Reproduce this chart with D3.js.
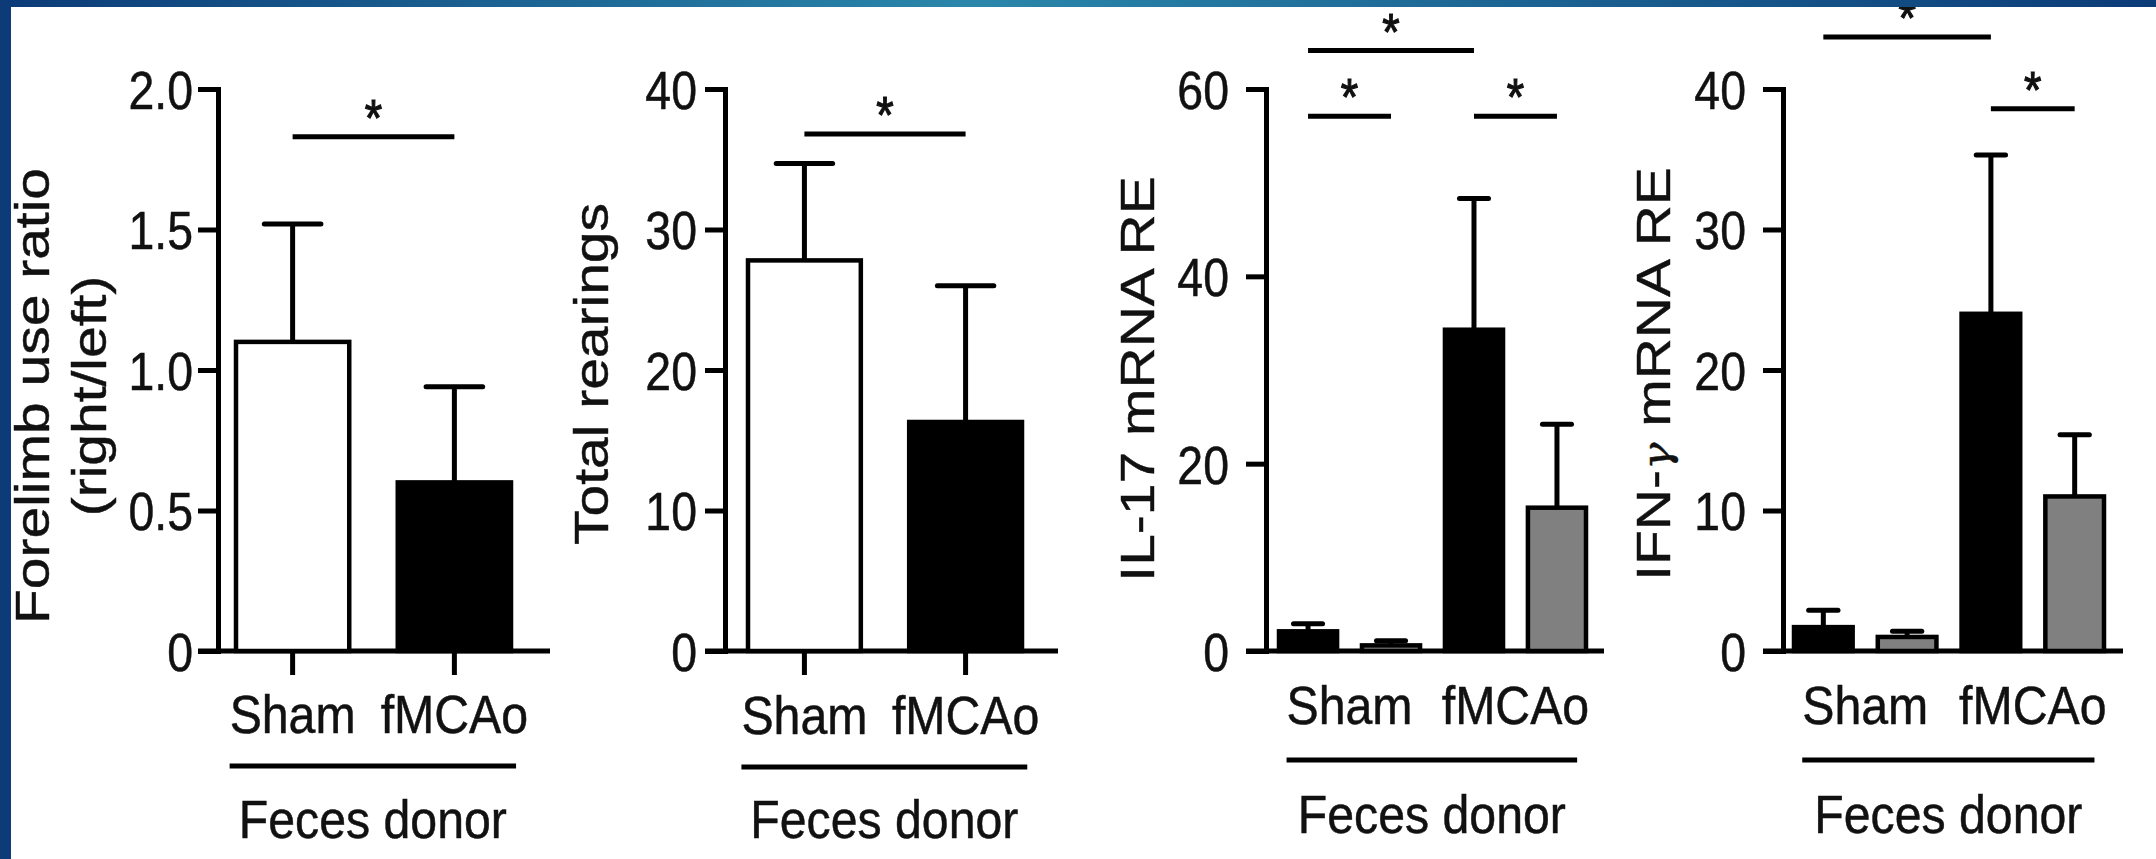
<!DOCTYPE html>
<html>
<head>
<meta charset="utf-8">
<script src="https://cdn.jsdelivr.net/npm/d3@7"></script>
<style>
  html, body { margin: 0; padding: 0; background: #fff; }
  svg { display: block; }
  text { font-family: "Liberation Sans", Arial, Helvetica, sans-serif; fill: #111; stroke: #111; stroke-width: 0.5px; }
</style>
</head>
<body>
<div id="chart"></div>
<script>
// ---- data ----
const groups = ["Sham", "fMCAo"];

// forelimb use ratio (right/left)
const forelimbMean = [1.10, 0.60];
const forelimbErr = [0.42, 0.34];
const forelimbTicks = [0, 0.5, 1.0, 1.5, 2.0];
const forelimbSig = [{ a: 0, b: 1, y: 1.83 }];

// total rearings
const rearingMean = [27.8, 16.3];
const rearingErr = [6.9, 9.7];
const rearingTicks = [0, 10, 20, 30, 40];
const rearingSig = [{ a: 0, b: 1, y: 36.8 }];

// four bars per cytokine panel, two per feces donor group
const cytoGroup = ["Sham", "Sham", "fMCAo", "fMCAo"];

const il17Mean = [2.1, 0.6, 34.3, 15.3];
const il17Err = [0.8, 0.5, 14.0, 8.9];
const il17Ticks = [0, 20, 40, 60];
const il17Sig = [
  { a: 0, b: 2, y: 64.1 },
  { a: 0, b: 1, y: 57.1 },
  { a: 2, b: 3, y: 57.1 }
];

const ifngMean = [1.7, 1.0, 24.0, 11.0];
const ifngErr = [1.2, 0.4, 11.3, 4.4];
const ifngTicks = [0, 10, 20, 30, 40];
const ifngSig = [
  { a: 0, b: 2, y: 43.7 },
  { a: 2, b: 3, y: 38.6 }
];

// ---- layout ----
const W = 2156, H = 859;
const Y_ZERO = 651, Y_TOP = 89;   // pixel range shared by all y scales
const SX = 0.86;                  // the lettering in the figure is squeezed sideways
const SX_LABEL = 0.91;            // category labels are a little wider
const TICK = 20;
const LW = 5;                     // axis / line weight

const fmtDec = (d) => (d === 0 ? "0" : d3.format(".1f")(d));
const fmtInt = d3.format("d");

const panels = [
  {
    title: ["Forelimb use ratio", "(right/left)"], titleX: [49, 106], titleY: 396,
    mean: forelimbMean, err: forelimbErr, ticks: forelimbTicks, fmt: fmtDec, max: 2,
    group: groups, sig: forelimbSig, fill: ["#fff", "#000"],
    axisX: 218, xEnd: 550, barRange: [236, 511], pad: 5, xTicks: true,
    labelY: 733, lineY: 766, donorY: 838
  },
  {
    title: ["Total rearings"], titleX: [608], titleY: 374,
    mean: rearingMean, err: rearingErr, ticks: rearingTicks, fmt: fmtInt, max: 40,
    group: groups, sig: rearingSig, fill: ["#fff", "#000"],
    axisX: 725, xEnd: 1058, barRange: [748, 1022], pad: 8, xTicks: true,
    labelY: 734, lineY: 767, donorY: 838
  },
  {
    title: ["IL-17 mRNA RE"], titleX: [1154], titleY: 379,
    mean: il17Mean, err: il17Err, ticks: il17Ticks, fmt: fmtInt, max: 60,
    group: cytoGroup, sig: il17Sig, fill: ["#000", "#808080", "#000", "#808080"],
    axisX: 1266, xEnd: 1604, barRange: [1279, 1586], pad: 17, xTicks: false,
    labelY: 724, lineY: 760, donorY: 833
  },
  {
    title: ["IFN-γ mRNA RE"], titleX: [1670], titleY: 374,
    mean: ifngMean, err: ifngErr, ticks: ifngTicks, fmt: fmtInt, max: 40,
    group: cytoGroup, sig: ifngSig, fill: ["#000", "#808080", "#000", "#808080"],
    axisX: 1783, xEnd: 2123, barRange: [1794, 2104], pad: 17, xTicks: false,
    labelY: 724, lineY: 760, donorY: 833
  }
];

const svg = d3.select("#chart").append("svg")
  .attr("width", W).attr("height", H)
  .attr("viewBox", `0 0 ${W} ${H}`);

function drawPanel(p) {
  const g = svg.append("g");
  const y = d3.scaleLinear().domain([0, p.max]).range([Y_ZERO, Y_TOP]);
  const x = d3.scaleBand().domain(d3.range(p.mean.length)).range(p.barRange).paddingInner(0.3);
  const bw = x.bandwidth();
  const cx = (i) => x(i) + bw / 2;

  // x baseline (runs out to the left under the zero tick)
  g.append("line")
    .attr("x1", p.axisX - TICK).attr("x2", p.xEnd)
    .attr("y1", y(0)).attr("y2", y(0))
    .attr("stroke", "#000").attr("stroke-width", LW);

  // y axis
  const yg = g.append("g")
    .attr("transform", `translate(${p.axisX},0)`)
    .call(d3.axisLeft(y).tickValues(p.ticks).tickFormat(p.fmt)
      .tickSize(TICK).tickSizeOuter(0).tickPadding(p.pad));
  yg.select(".domain").attr("stroke", "#000").attr("stroke-width", LW).attr("stroke-linecap", "square");
  yg.selectAll(".tick line").attr("stroke", "#000").attr("stroke-width", LW);
  yg.selectAll(".tick text")
    .attr("x", 0).attr("dy", "0.36em")
    .attr("transform", `translate(${-(TICK + p.pad)},0) scale(${SX},1)`)
    .attr("font-size", 54).attr("font-family", null).attr("fill", "#111");

  // x ticks under the bars (first two panels only)
  if (p.xTicks) {
    const xg = g.append("g")
      .attr("transform", `translate(0,${y(0)})`)
      .call(d3.axisBottom(x).tickSize(24).tickFormat(""));
    xg.select(".domain").remove();
    xg.selectAll(".tick line").attr("stroke", "#000").attr("stroke-width", LW);
  }

  const idx = d3.range(p.mean.length);

  // error bars (upper arm only)
  const eb = g.append("g").selectAll("g").data(idx).join("g");
  eb.append("line")
    .attr("x1", cx).attr("x2", cx)
    .attr("y1", (i) => y(p.mean[i])).attr("y2", (i) => y(p.mean[i] + p.err[i]))
    .attr("stroke", "#000").attr("stroke-width", LW);
  eb.append("line")
    .attr("x1", (i) => cx(i) - bw / 4).attr("x2", (i) => cx(i) + bw / 4)
    .attr("y1", (i) => y(p.mean[i] + p.err[i])).attr("y2", (i) => y(p.mean[i] + p.err[i]))
    .attr("stroke", "#000").attr("stroke-width", LW).attr("stroke-linecap", "round");

  // bars
  g.append("g").selectAll("rect").data(idx).join("rect")
    .attr("x", (i) => x(i)).attr("width", bw)
    .attr("y", (i) => y(p.mean[i]))
    .attr("height", (i) => y(0) - y(p.mean[i]))
    .attr("fill", (i) => p.fill[i])
    .attr("stroke", "#000").attr("stroke-width", 4.5);

  // significance lines and stars
  const sg = g.append("g").selectAll("g").data(p.sig).join("g");
  sg.append("line")
    .attr("x1", (d) => cx(d.a)).attr("x2", (d) => cx(d.b))
    .attr("y1", (d) => y(d.y)).attr("y2", (d) => y(d.y))
    .attr("stroke", "#000").attr("stroke-width", LW);
  sg.append("text")
    .attr("text-anchor", "middle").attr("font-size", 52)
    .style("stroke-width", "1.2px")
    .attr("transform", (d) => `translate(${(cx(d.a) + cx(d.b)) / 2},${y(d.y) - 1}) scale(${SX},1)`)
    .text("*");

  // group labels
  const labels = groups.map((name) => {
    const members = idx.filter((i) => p.group[i] === name);
    return { name, x: d3.mean(members, cx) };
  });
  const lt = g.append("g").selectAll("text").data(labels).join("text")
    .attr("text-anchor", "middle").attr("font-size", 53)
    .attr("transform", (d) => `translate(${d.x},${p.labelY}) scale(${SX_LABEL},1)`)
    .text((d) => d.name);
  const widths = lt.nodes().map((n) => n.getComputedTextLength() * SX_LABEL);
  const lx0 = labels[0].x - widths[0] / 2;
  const lx1 = labels[1].x + widths[1] / 2 - 12;

  g.append("line")
    .attr("x1", lx0).attr("x2", lx1)
    .attr("y1", p.lineY).attr("y2", p.lineY)
    .attr("stroke", "#000").attr("stroke-width", LW);
  g.append("text")
    .attr("text-anchor", "middle").attr("font-size", 53)
    .attr("transform", `translate(${(lx0 + lx1) / 2},${p.donorY}) scale(${SX_LABEL},1)`)
    .text("Feces donor");

  // y title
  p.title.forEach((t, k) => {
    const tt = g.append("text")
      .attr("text-anchor", "middle").attr("font-size", 57)
      .attr("transform", `translate(${p.titleX[k]},${p.titleY}) scale(${SX},1) rotate(-90)`);
    if (t.includes("γ")) {
      const [pre, post] = t.split("γ");
      tt.append("tspan").text(pre);
      tt.append("tspan").attr("font-family", "'DejaVu Serif', serif").attr("font-style", "italic")
        .attr("font-size", 46).text("γ");
      tt.append("tspan").text(post);
    } else {
      tt.text(t);
    }
  });
}

panels.forEach(drawPanel);

// ---- slide frame: dark blue strip on the left and a graded bar along the top ----
const defs = svg.append("defs");
const grad = defs.append("linearGradient").attr("id", "topbar").attr("x1", 0).attr("x2", 1);
grad.append("stop").attr("offset", 0).attr("stop-color", "#0c3b78");
grad.append("stop").attr("offset", 0.45).attr("stop-color", "#2a87aa");
grad.append("stop").attr("offset", 1).attr("stop-color", "#0c3b78");

svg.append("rect").attr("x", 0).attr("y", 0).attr("width", W).attr("height", 7).attr("fill", "url(#topbar)");
svg.append("rect").attr("x", 0).attr("y", 0).attr("width", 11).attr("height", H).attr("fill", "#0c3b78");
</script>
</body>
</html>
